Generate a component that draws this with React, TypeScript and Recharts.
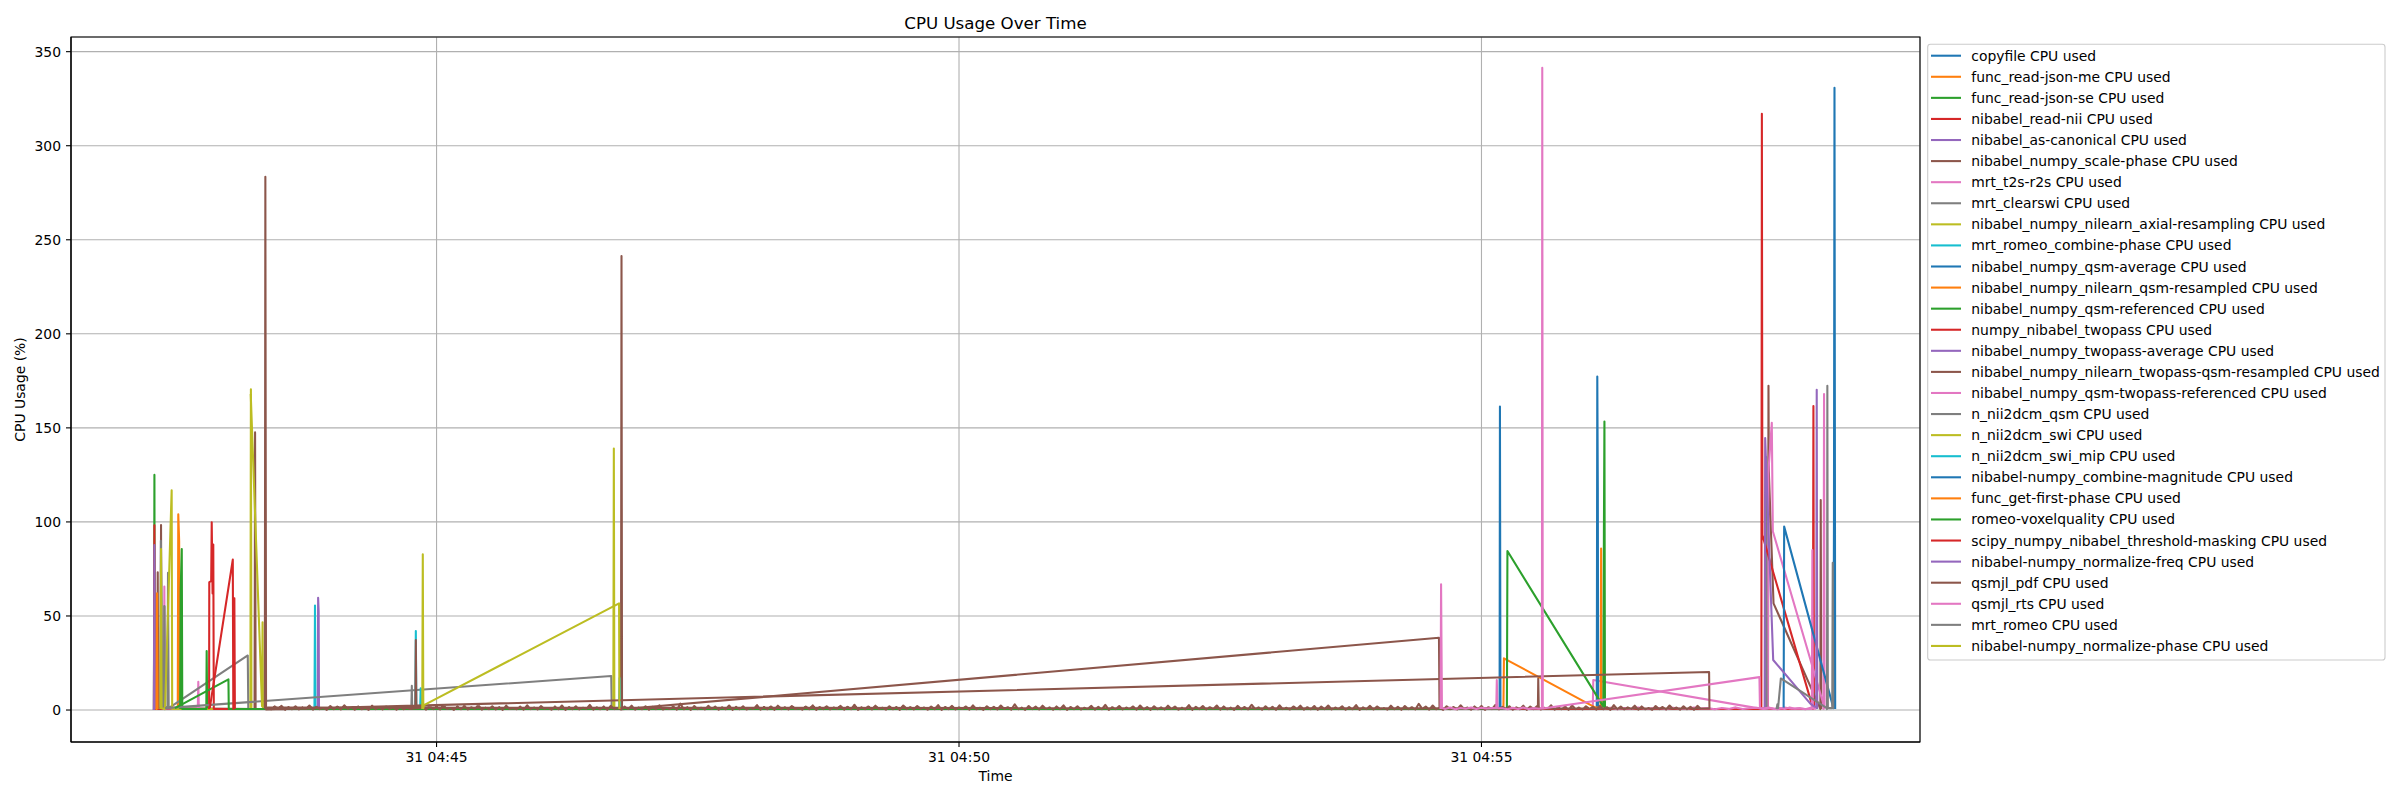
import React from 'react';
import { LineChart, Line, XAxis, YAxis, CartesianGrid, ReferenceArea } from 'recharts';

type Noise = { start: string; step: number; values: number[] };
type Item = [string, number] | Noise;

// ---------- axis settings ----------
const X_START = '04:41:30.1';
const X_END = '04:59:11.8';
const X_TICKS = ['04:45:00', '04:50:00', '04:55:00'];
const Y_MIN = -17;
const Y_MAX = 357.8;
const Y_TICKS = [0, 50, 100, 150, 200, 250, 300, 350];

const COLORS = ['#1f77b4', '#ff7f0e', '#2ca02c', '#d62728', '#9467bd', '#8c564b', '#e377c2', '#7f7f7f', '#bcbd22', '#17becf'];

const NAMES = [
  'copyfile CPU used',
  'func_read-json-me CPU used',
  'func_read-json-se CPU used',
  'nibabel_read-nii CPU used',
  'nibabel_as-canonical CPU used',
  'nibabel_numpy_scale-phase CPU used',
  'mrt_t2s-r2s CPU used',
  'mrt_clearswi CPU used',
  'nibabel_numpy_nilearn_axial-resampling CPU used',
  'mrt_romeo_combine-phase CPU used',
  'nibabel_numpy_qsm-average CPU used',
  'nibabel_numpy_nilearn_qsm-resampled CPU used',
  'nibabel_numpy_qsm-referenced CPU used',
  'numpy_nibabel_twopass CPU used',
  'nibabel_numpy_twopass-average CPU used',
  'nibabel_numpy_nilearn_twopass-qsm-resampled CPU used',
  'nibabel_numpy_qsm-twopass-referenced CPU used',
  'n_nii2dcm_qsm CPU used',
  'n_nii2dcm_swi CPU used',
  'n_nii2dcm_swi_mip CPU used',
  'nibabel-numpy_combine-magnitude CPU used',
  'func_get-first-phase CPU used',
  'romeo-voxelquality CPU used',
  'scipy_numpy_nibabel_threshold-masking CPU used',
  'nibabel-numpy_normalize-freq CPU used',
  'qsmjl_pdf CPU used',
  'qsmjl_rts CPU used',
  'mrt_romeo CPU used',
  'nibabel-numpy_normalize-phase CPU used',
];

// ---------- series (time, CPU %) ----------
const copyfile: Item[] = [['04:55:10.4', 0.5], ['04:55:10.6', 161.3], ['04:55:10.9', 0.5]];
const readJsonMe: Item[] = [['04:42:31.4', 0], ['04:42:31.7', 104], ['04:42:32.2', 90], ['04:42:32.5', 0.5]];
const readJsonSe: Item[] = [['04:42:17.7', 0], ['04:42:18.0', 125], ['04:42:18.2', 1], ['04:42:23.5', 0.5], ['04:42:23.7', 55], ['04:42:24.0', 1]];
const readNii: Item[] = [['04:42:17.7', 0], ['04:42:18.0', 98.2], ['04:42:18.2', 0.5], ['04:58:10.3', 0.5], ['04:58:10.6', 161.6], ['04:58:10.9', 0.5]];
const asCanonical: Item[] = [['04:42:17.7', 0], ['04:42:18.0', 87.7], ['04:42:18.3', 0.5]];
const scalePhase: Item[] = [
  ['04:42:19.6', 0.5], ['04:42:19.9', 73.2], ['04:42:20.2', 1], ['04:42:21.5', 1], ['04:42:21.8', 98.3], ['04:42:22.1', 1],
  ['04:43:15.5', 0.5], ['04:43:15.8', 147.6], ['04:43:16.1', 0.5], ['04:55:32.4', 0.5], ['04:55:32.6', 16.8], ['04:55:32.9', 0.5],
  ['04:57:44.5', 0.5], ['04:57:44.8', 172.4], ['04:57:45.0', 126.8], ['04:57:47.7', 56.7], ['04:58:14.4', 1], ['04:58:14.6', 0.5],
  ['04:58:14.8', 111.6], ['04:58:15.1', 0.5],
];
const t2sR2s: Item[] = [
  ['04:42:23.4', 0], ['04:42:23.7', 65.6], ['04:42:24.0', 1], ['04:42:42.9', 0.5], ['04:42:43.2', 15], ['04:42:43.5', 0.5],
  ['04:56:03.9', 0.5], ['04:56:04.2', 16], ['04:57:38.3', 1], ['04:57:44.4', 1], ['04:57:44.7', 126], ['04:57:46.7', 152.7],
  ['04:57:47.3', 95], ['04:58:16.1', 4], ['04:58:16.4', 0.5], ['04:58:16.7', 168], ['04:58:17.0', 0.5],
];
const clearswi: Item[] = [
  ['04:42:21.5', 0.5], ['04:42:21.7', 90], ['04:42:22.1', 58], ['04:42:22.5', 1], ['04:42:23.4', 1], ['04:42:23.7', 55.3],
  ['04:42:24.0', 2], ['04:42:25.5', 1], ['04:42:25.8', 73], ['04:42:26.2', 1], ['04:43:11.6', 29], ['04:43:11.9', 0.5],
  ['04:44:45.5', 0.5], ['04:44:45.8', 12.9], ['04:44:46.0', 0.5], ['04:57:43.2', 0.5], ['04:57:43.5', 134.5], ['04:57:43.7', 0.5],
];
const axialResampling: Item[] = [
  ['04:42:21.5', 0.5], ['04:42:21.8', 85.6], ['04:42:22.1', 1], ['04:42:24.1', 0.5], ['04:42:27.9', 116.8], ['04:42:28.2', 0.5],
  ['04:43:13.1', 0.5], ['04:43:13.4', 170.5], ['04:43:13.7', 1],
];
const romeoCombinePhase: Item[] = [['04:43:49.9', 0.5], ['04:43:50.2', 55.6], ['04:43:50.5', 0.5]];
const qsmAverage: Item[] = [['04:56:06.2', 0.5], ['04:56:06.5', 177.3], ['04:56:06.8', 118.4], ['04:56:07.0', 0.5]];
const qsmResampled: Item[] = [['04:42:19.2', 0], ['04:42:19.5', 62], ['04:42:19.8', 0.5]];
const qsmReferenced: Item[] = [
  ['04:42:32.8', 0.5], ['04:42:33.1', 64.6], ['04:42:33.7', 85.6], ['04:42:34.0', 0.5], ['04:42:47.8', 0.5], ['04:42:48.0', 31.4], ['04:42:48.3', 1],
];
const twopass: Item[] = [
  ['04:42:49.4', 0.5], ['04:42:49.5', 68], ['04:42:50.6', 68.5], ['04:42:50.9', 99.8], ['04:42:51.4', 62], ['04:42:51.8', 88],
  ['04:42:52.1', 0.5], ['04:57:40.7', 0.5], ['04:57:41.0', 317], ['04:57:41.3', 93], ['04:58:09.7', 3], ['04:58:10.0', 0.5],
];
const twopassAverage: Item[] = [['04:43:51.8', 0.5], ['04:43:52.0', 59.7], ['04:43:52.3', 52.3], ['04:43:52.5', 0.5]];
const twopassQsmResampled: Item[] = [['04:46:45.9', 0.5], ['04:46:46.2', 241.4], ['04:46:46.5', 0.4], ['04:54:35.6', 38.4], ['04:54:35.9', 0.8]];
const qsmTwopassReferenced: Item[] = [
  { start: '04:56:10', step: 4, values: [0.7, 1.2, 0.4, 1.0, 0.6, 1.3, 0.5, 0.9, 1.1, 0.4, 1.2, 0.7, 0.5, 1.3, 0.8, 1.0, 0.4, 1.1, 0.6, 1.4, 0.5, 0.9, 1.2, 0.6, 1.0, 0.4, 1.3, 0.7, 0.9, 0.5] },
  ['04:58:09.7', 0.5], ['04:58:10.0', 85], ['04:58:10.3', 0.5],
];
const nii2dcmQsm: Item[] = [['04:42:24.1', 1], ['04:46:40.3', 18.1], ['04:46:40.6', 0.3]];
const nii2dcmSwi: Item[] = [
  ['04:43:13.3', 168], ['04:43:19.8', 2], ['04:43:20.1', 46.6], ['04:43:20.3', 0.5], ['04:46:41.5', 0.5], ['04:46:41.8', 139], ['04:46:42.1', 0.5],
];
const nii2dcmSwiMip: Item[] = [
  ['04:44:47.8', 0.5], ['04:44:48.1', 42], ['04:44:48.4', 1], ['04:44:50.6', 1], ['04:44:50.9', 11.5], ['04:44:51.2', 0.5],
  ['04:46:44.8', 0.5], ['04:46:45.1', 17], ['04:46:45.4', 0.5],
];
const combineMagnitude: Item[] = [
  ['04:57:53.5', 0.5], ['04:57:53.8', 97.5], ['04:58:22.1', 1.0], ['04:58:22.4', 100.3], ['04:58:22.7', 330.8], ['04:58:23.1', 0.5],
];
const getFirstPhase: Item[] = [
  ['04:55:12.6', 0.5], ['04:55:12.9', 27.5], ['04:56:05.2', 1.4], ['04:56:08.4', 1], ['04:56:08.7', 85.9], ['04:56:09.0', 0.5],
];
const voxelquality: Item[] = [
  ['04:42:29.8', 1], ['04:43:00.5', 16.3], ['04:43:00.7', 0.5], ['04:55:14.6', 0.5], ['04:55:14.9', 84.5], ['04:56:10.0', 1.8],
  ['04:56:10.3', 94], ['04:56:10.6', 153.4], ['04:56:10.9', 1],
];
const thresholdMasking: Item[] = [
  ['04:42:49.8', 1], ['04:43:03.0', 80], ['04:43:03.3', 0.5], ['04:43:03.6', 58], ['04:43:03.9', 59.4], ['04:43:04.2', 0.5],
];
const normalizeFreq: Item[] = [
  ['04:57:42.6', 0.5], ['04:57:42.9', 144.6], ['04:57:47.5', 26.6], ['04:58:08.7', 3.5], ['04:58:12.2', 1], ['04:58:12.5', 170.2], ['04:58:12.8', 0.5],
];
const qsmjlPdf: Item[] = [
  ['04:43:21.4', 0.5], ['04:43:21.7', 283.5], ['04:43:22.1', 0.3], ['04:57:10.7', 20.2], ['04:57:10.9', 0.8],
  {
    start: '04:43:23', step: 2, values: [
      1.3, 0.2, 1.9, 0.5, 2.2, 0.1, 1.6, 0.4, 2.0, 0.3, 1.4, 0.6, 2.4, 0.2, 1.7, 0.5, 1.2, 0.1, 2.1, 0.4,
      1.8, 0.3, 2.5, 0.6, 1.5, 0.2, 1.9, 0.4, 1.1, 0.1, 2.3, 0.5, 1.6, 0.3, 2.0, 0.6, 1.4, 0.2, 1.8, 0.4,
      1.2, 0.5,
    ],
  },
  ['04:44:47.8', 1.0], ['04:44:48.1', 37.2], ['04:44:48.4', 1.0],
  {
    start: '04:44:52', step: 2, values: [
      1.4, 0.2, 2.1, 0.5, 1.7, 0.3, 2.4, 0.6, 1.2, 0.1, 1.9, 0.4, 2.2, 0.3, 1.5, 0.7, 2.6, 0.2, 1.3, 0.5,
      2.0, 0.3, 1.6, 0.1, 2.3, 0.6, 1.1, 0.4, 1.8, 0.2, 2.5, 0.5, 1.4, 0.3, 2.1, 0.7, 1.2, 0.2, 1.9, 0.4,
      2.4, 0.1, 1.6, 0.5, 2.0, 0.3, 1.3, 0.6, 2.7, 0.2, 1.5, 0.4, 1.9, 0.1, 2.2, 0.5, 1.1, 0.3, 1.8, 0.6,
      2.3, 0.2, 1.4, 0.4, 2.0, 0.1, 1.7, 0.5, 2.5, 0.3, 1.2, 0.6, 1.9, 0.2, 3.4, 0.4, 1.6, 0.1, 2.1, 0.5,
      1.3, 0.3, 2.2, 0.6, 1.8, 0.2, 1.5, 0.4, 2.4, 0.1, 1.7, 0.5, 2.0, 0.3, 1.2, 0.6, 2.6, 0.2, 1.6, 0.4,
      1.9, 0.1, 2.3, 0.5, 1.4, 0.3, 2.1, 0.6, 1.1, 0.2, 1.8, 0.4, 2.5, 0.1, 1.5, 0.5, 2.0, 0.3, 1.3, 0.6,
      2.2, 0.2, 1.7, 0.4, 2.8, 0.1, 1.4, 0.5, 1.9, 0.3, 2.3, 0.6, 1.2, 0.2, 2.0, 0.4, 1.6, 0.1, 2.4, 0.5,
      1.5, 0.3, 2.1, 0.6, 1.3, 0.2, 1.8, 0.4, 2.6, 0.1, 1.6, 0.5, 2.2, 0.3, 1.4, 0.6, 1.9, 0.2, 2.5, 0.4,
      1.2, 0.1, 2.0, 0.5, 1.7, 0.3, 2.4, 0.6, 1.5, 0.2, 3.0, 0.4, 1.3, 0.1, 2.1, 0.5, 1.8, 0.3, 2.3, 0.6,
      1.4, 0.2, 1.9, 0.4, 2.5, 0.1, 1.6, 0.5, 2.0, 0.3, 1.2, 0.6, 2.2, 0.2, 1.7, 0.4, 2.7, 0.1, 1.5, 0.5,
      2.1, 0.3, 1.3, 0.6, 1.9, 0.2, 2.4, 0.4, 1.6, 0.1, 2.0, 0.5, 1.4, 0.3, 2.3, 0.6, 1.8, 0.2, 1.2, 0.4,
      2.6, 0.1, 1.7, 0.5, 2.1, 0.3, 1.5, 0.6, 2.4, 0.2, 1.9, 0.4, 1.3, 0.1, 2.2, 0.5, 1.6, 0.3, 2.8, 0.6,
      1.4, 0.2, 2.0, 0.4, 1.7, 0.1, 2.5, 0.5, 1.2, 0.3, 1.9, 0.6, 2.3, 0.2, 1.5, 0.4, 2.1, 0.1, 1.8, 0.5,
      2.4, 0.3, 1.3, 0.6, 2.0, 0.2, 1.6, 0.4, 2.6, 0.1, 1.4, 0.5, 2.2, 0.3, 1.9, 0.6, 1.1, 0.2, 2.3, 0.4,
      1.7, 0.1, 2.1, 0.5, 1.5, 0.3, 3.3, 0.6, 1.8, 0.2, 2.4, 0.4, 1.2, 0.1, 2.0, 0.5, 1.6, 0.3, 2.5, 0.6,
      1.3, 0.2, 1.9, 0.4, 2.2, 0.1, 1.5, 0.5, 2.7, 0.3, 1.7, 0.6, 2.0, 0.2, 1.4, 0.4, 2.3, 0.1, 1.8, 0.5,
      2.1, 0.3, 1.2, 0.6, 2.5, 0.2, 1.6, 0.4, 1.9, 0.1, 2.4, 0.5, 1.3, 0.3, 2.0, 0.6, 1.7, 0.2, 2.2, 0.4,
      1.5, 0.1, 2.6, 0.5, 1.8, 0.3, 1.4, 0.6, 2.3, 0.2, 1.9, 0.4, 1.1, 0.1, 2.1, 0.5, 1.6, 0.3, 2.4, 0.6,
      1.3, 0.2, 2.0, 0.4, 1.7, 0.1, 2.2, 0.5,
    ],
  },
];
const qsmjlRts: Item[] = [
  ['04:54:36.5', 0.5], ['04:54:36.8', 66.9], ['04:54:37.3', 1.2],
  { start: '04:54:39', step: 3, values: [0.6, 1.3, 0.4, 1.1, 0.7, 1.4, 0.5, 1.2, 0.8, 1.0] },
  ['04:55:08.5', 1], ['04:55:08.8', 16], ['04:55:09.2', 1],
  { start: '04:55:12', step: 3, values: [0.9, 0.4, 1.2, 0.6, 1.3, 0.5, 1.0, 0.7] },
  ['04:55:34.7', 1], ['04:55:34.9', 341.4], ['04:55:35.2', 0.8], ['04:57:39.6', 17.5], ['04:57:39.9', 1],
  { start: '04:57:42', step: 3, values: [0.8, 1.3, 0.5, 1.1, 0.6, 1.4, 0.7, 1.0, 0.4, 1.2, 0.6] },
];
const mrtRomeo: Item[] = [
  ['04:57:49.4', 0.5], ['04:57:49.9', 3], ['04:57:50.3', 1], ['04:57:51.9', 16.8], ['04:58:18.3', 1], ['04:58:18.4', 0.5],
  ['04:58:18.6', 172.4], ['04:58:18.9', 1], ['04:58:21.4', 1], ['04:58:21.7', 78.3], ['04:58:22.0', 0.5],
];
const normalizePhase: Item[] = [
  ['04:44:51.8', 0.5], ['04:44:52.1', 82.8], ['04:44:52.4', 1], ['04:44:52.8', 2.6], ['04:46:44.8', 56.7], ['04:46:45.0', 0.5],
];

const SERIES: Item[][] = [
  copyfile, readJsonMe, readJsonSe, readNii, asCanonical, scalePhase, t2sR2s, clearswi, axialResampling,
  romeoCombinePhase, qsmAverage, qsmResampled, qsmReferenced, twopass, twopassAverage, twopassQsmResampled,
  qsmTwopassReferenced, nii2dcmQsm, nii2dcmSwi, nii2dcmSwiMip, combineMagnitude, getFirstPhase, voxelquality,
  thresholdMasking, normalizeFreq, qsmjlPdf, qsmjlRts, mrtRomeo, normalizePhase,
];

// ---------- helpers ----------
const parseT = (s: string): number => {
  const [h, m, sec] = s.split(':');
  return Number(h) * 3600 + Number(m) * 60 + parseFloat(sec);
};

const build = (items: Item[]) => {
  const out: { t: number; v: number }[] = [];
  items.forEach((it) => {
    if (Array.isArray(it)) {
      out.push({ t: parseT(it[0]), v: it[1] });
    } else {
      const t0 = parseT(it.start);
      it.values.forEach((v, i) => out.push({ t: t0 + i * it.step, v }));
    }
  });
  return out;
};

const fmtTick = (t: number) => {
  const h = Math.floor(t / 3600);
  const m = Math.round((t - h * 3600) / 60);
  return `31 ${String(h).padStart(2, '0')}:${String(m).padStart(2, '0')}`;
};

const FONT = 'DejaVu Sans';
const FS = 13.9;

export default function App() {
  const xMin = parseT(X_START);
  const xMax = parseT(X_END);
  const xTicks = X_TICKS.map(parseT);
  const datasets = SERIES.map(build);

  return (
    <div style={{ position: 'absolute', left: 0, top: 0, width: 2400, height: 800, background: '#fff' }}>
      <LineChart width={2400} height={800} margin={{ top: 37, right: 480, bottom: 0, left: 0 }}>
        <CartesianGrid stroke="#b0b0b0" strokeWidth={1.1} />
        <XAxis
          type="number"
          dataKey="t"
          domain={[xMin, xMax]}
          allowDataOverflow
          ticks={xTicks}
          interval={0}
          tickFormatter={fmtTick}
          height={58}
          tickSize={5}
          tickMargin={5}
          stroke="#000"
          strokeWidth={1.1}
          tick={{ fill: '#000', fontSize: FS, fontFamily: FONT }}
        />
        <YAxis
          type="number"
          domain={[Y_MIN, Y_MAX]}
          allowDataOverflow
          ticks={Y_TICKS}
          interval={0}
          width={71}
          tickSize={5}
          tickMargin={5}
          stroke="#000"
          strokeWidth={1.1}
          tick={{ fill: '#000', fontSize: FS, fontFamily: FONT }}
        />
        <ReferenceArea x1={xMin} x2={xMax} y1={Y_MIN} y2={Y_MAX} fill="none" stroke="#000" strokeWidth={1.1} ifOverflow="visible" />
        {datasets.map((d, i) => (
          <Line
            key={NAMES[i]}
            data={d}
            dataKey="v"
            name={NAMES[i]}
            type="linear"
            stroke={COLORS[i % 10]}
            strokeWidth={2.08}
            strokeLinejoin="round"
            dot={false}
            activeDot={false}
            isAnimationActive={false}
          />
        ))}
      </LineChart>
      <svg
        width={2400}
        height={800}
        style={{ position: 'absolute', left: 0, top: 0, pointerEvents: 'none' }}
        fontFamily={FONT}
      >
        <text x={995.5} y={28.7} textAnchor="middle" fontSize={16.67} fill="#000">CPU Usage Over Time</text>
        <text x={995.5} y={781} textAnchor="middle" fontSize={FS} fill="#000">Time</text>
        <text transform="translate(24.7,389.5) rotate(-90)" textAnchor="middle" fontSize={FS} fill="#000">CPU Usage (%)</text>
        <rect x={1927.7} y={44.3} width={457.3} height={615.7} rx={2.8} fill="#fff" fillOpacity={0.8} stroke="#cccccc" strokeWidth={1.1} />
        {NAMES.map((n, i) => {
          const y = 55.7 + 21.08 * i;
          return (
            <g key={n}>
              <line x1={1931} x2={1961} y1={y} y2={y} stroke={COLORS[i % 10]} strokeWidth={2.08} />
              <text x={1971.3} y={y + 5} fontSize={FS} fill="#000">{n}</text>
            </g>
          );
        })}
      </svg>
    </div>
  );
}
